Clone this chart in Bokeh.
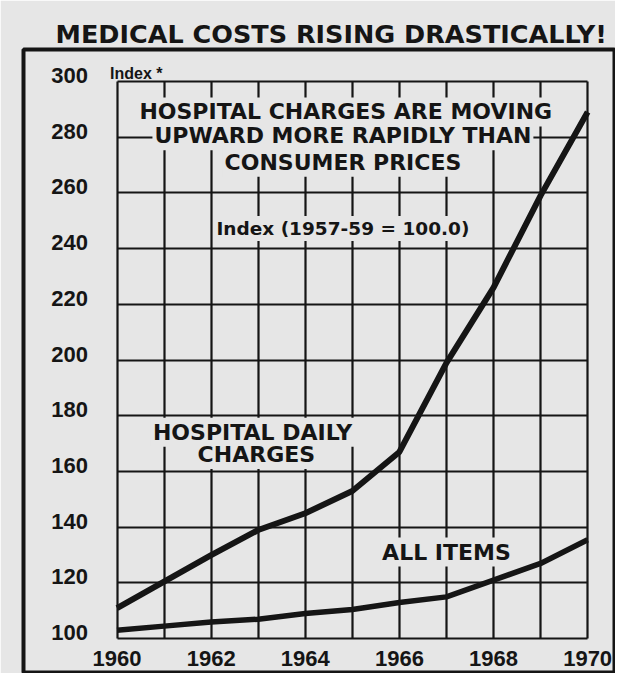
from bokeh.plotting import figure
from bokeh.models import Range1d, FixedTicker, Label, LinearAxis, Grid
from bokeh.embed import file_html
from bokeh.resources import INLINE

# ---- data ----
years = [1960, 1961, 1962, 1963, 1964, 1965, 1966, 1967, 1968, 1969, 1970]
hospital_daily_charges = [111, 120.5, 130, 139, 145, 153, 167, 199, 226, 259, 289]
all_items = [103, 104.5, 106, 107, 109, 110.5, 113, 115, 121, 127, 135.5]
x_tick_labels = [1960, 1962, 1964, 1966, 1968, 1970]
y_ticks = [100, 120, 140, 160, 180, 200, 220, 240, 260, 280, 300]

PAPER = "#e6e6e6"
INK = "#151515"

# ---- layout (pixels) ----
W, H = 615, 673
GX0, GX1 = 117, 590      # left / right edge of the chart grid
GY0, GY1 = 641, 81       # bottom / top edge of the chart grid
PAGE_LEFT, PAGE_TOP = 23, 49   # heavy page frame (plot outline)
OVER = 3                 # frame runs off the right / bottom of the page
LABEL_LIFT = 6           # y tick labels sit just above their grid lines

x0, x1 = years[0], years[-1]
y0, y1 = y_ticks[0], y_ticks[-1]
ppx = (GX1 - GX0) / (x1 - x0)
ppy = (GY0 - GY1) / (y1 - y0)
xs, xe = x0 - (GX0 - PAGE_LEFT) / ppx, x1 + (W + OVER - GX1) / ppx
ys, ye = y0 - (H + OVER - GY0) / ppy, y1 + (GY1 - PAGE_TOP) / ppy

p = figure(width=W, height=H, output_backend="svg", toolbar_location=None,
           x_range=Range1d(xs, xe), y_range=Range1d(ys, ye),
           x_axis_location=None, y_axis_location=None,
           min_border_left=PAGE_LEFT, min_border_right=-OVER,
           min_border_top=PAGE_TOP, min_border_bottom=-OVER,
           outline_line_color=INK, outline_line_width=4,
           background_fill_color=PAPER, border_fill_color=PAPER)
for g in p.grid:
    g.visible = False

# title
p.title.text = "MEDICAL COSTS RISING DRASTICALLY!"
p.title.text_font = "DejaVu Sans"
p.title.text_font_style = "bold"
p.title.text_font_size = "25.5px"
p.title.text_color = INK
p.title.align = "left"
p.title.offset = 55 - PAGE_LEFT
p.title.standoff = 1

# chart grid, limited to the chart area
grid_style = dict(grid_line_color=INK, grid_line_width=2.2, grid_line_alpha=1)
if "cross_bounds" in Grid.properties():
    p.add_layout(Grid(dimension=0, ticker=FixedTicker(ticks=years),
                      cross_bounds=(y0, y1), **grid_style))
    p.add_layout(Grid(dimension=1, ticker=FixedTicker(ticks=y_ticks),
                      cross_bounds=(x0, x1), **grid_style))
else:
    p.segment(x0=years, y0=[y0] * len(years), x1=years, y1=[y1] * len(years),
              line_color=INK, line_width=2.2)
    p.segment(x0=[x0] * len(y_ticks), y0=y_ticks, x1=[x1] * len(y_ticks),
              y1=y_ticks, line_color=INK, line_width=2.2)

# axes fixed to the chart edges
d = LABEL_LIFT / ppy
p.extra_y_ranges = {"ylab": Range1d(ys - d, ye - d)}
yax = LinearAxis(y_range_name="ylab", fixed_location=x0,
                 ticker=FixedTicker(ticks=y_ticks))
xax = LinearAxis(fixed_location=y0, ticker=FixedTicker(ticks=x_tick_labels))
for ax in (xax, yax):
    ax.axis_line_color = None
    ax.major_tick_line_color = None
    ax.minor_tick_line_color = None
    ax.major_label_text_font = "Liberation Sans"
    ax.major_label_text_font_style = "bold"
    ax.major_label_text_font_size = "22px"
    ax.major_label_text_color = INK
xax.major_label_standoff = 6
yax.major_label_standoff = 23
p.add_layout(yax, "left")
p.add_layout(xax, "below")

# lines
p.line(years, hospital_daily_charges, line_width=6, line_color=INK,
       line_join="round", line_cap="butt")
p.line(years, all_items, line_width=5.5, line_color=INK,
       line_join="round", line_cap="butt")

# annotations
def lab(x, y, text, size="22px", pad=2):
    p.add_layout(Label(x=x, y=y, text=text, text_align="center",
                       text_baseline="middle", text_font="DejaVu Sans",
                       text_font_style="bold", text_font_size=size,
                       text_color=INK, background_fill_color=PAPER,
                       padding=pad))

lab(1964.86, 289.0, "HOSPITAL CHARGES ARE MOVING")
lab(1964.8, 280.5, "UPWARD MORE RAPIDLY THAN")
lab(1964.8, 271.0, "CONSUMER PRICES")
lab(1964.8, 247.2, "Index (1957-59 = 100.0)", size="18.5px")
lab(1962.88, 174.1, "HOSPITAL DAILY")
lab(1962.96, 166.1, "CHARGES")
lab(1967.0, 131.1, "ALL ITEMS")

p.add_layout(Label(x=x0, y=y1, x_offset=-7, y_offset=8, text="Index *",
                   text_align="left", text_baseline="alphabetic",
                   text_font="Liberation Sans", text_font_style="bold",
                   text_font_size="16px", text_color=INK))

open("out.html", "w").write(file_html(p, INLINE))
